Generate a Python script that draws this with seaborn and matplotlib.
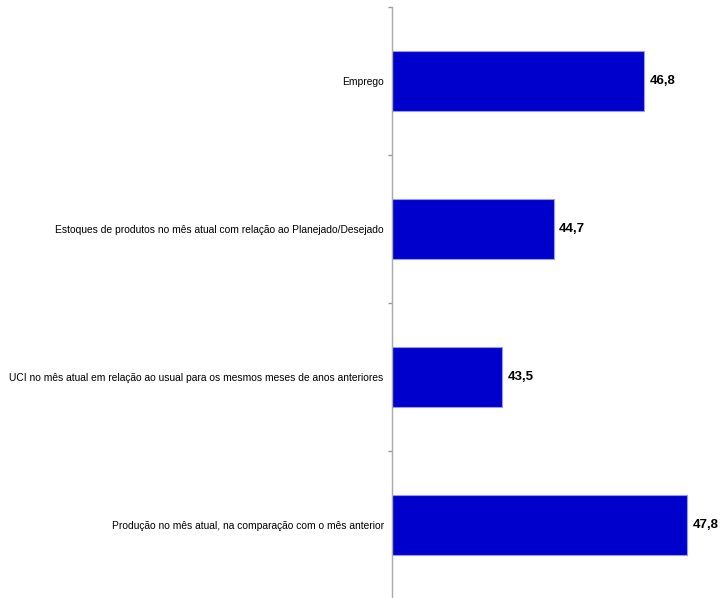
import matplotlib
matplotlib.use("Agg")
import matplotlib.pyplot as plt
import seaborn as sns
import pandas as pd

categorias = [
    "Emprego",
    "Estoques de produtos no mês atual com relação ao Planejado/Desejado",
    "UCI no mês atual em relação ao usual para os mesmos meses de anos anteriores",
    "Produção no mês atual, na comparação com o mês anterior",
]
valores = [46.8, 44.7, 43.5, 47.8]
rotulos = ["46,8", "44,7", "43,5", "47,8"]

sns.set_style("white")
plt.rcParams["font.family"] = ["Liberation Sans", "DejaVu Sans"]

df = pd.DataFrame({"categoria": categorias, "valor": valores})

fig = plt.figure(figsize=(7.2, 5.98), dpi=100)
ax = fig.add_axes([392 / 720, -1 / 598, 1 - 392 / 720, 592 / 598])
sns.barplot(data=df, x="valor", y="categoria", orient="h", color="#0000CC",
            width=0.4, edgecolor="#9999EE", linewidth=0.8, saturation=1, ax=ax)

ax.set_xlim(40.94, 48.57)
ax.set_ylim(3.5, -0.5)
ax.set_xlabel("")
ax.set_ylabel("")
ax.set_xticks([])
for lado in ["top", "right", "bottom"]:
    ax.spines[lado].set_visible(False)
ax.spines["left"].set_color("#AAAAAA")
ax.spines["left"].set_linewidth(1)

ax.set_yticks(range(len(categorias)))
ax.set_yticklabels(categorias, fontsize=7.4, color="black")
ax.tick_params(axis="y", which="major", left=False, length=0, pad=6)
ax.set_yticks([-0.5, 0.5, 1.5, 2.5, 3.5], minor=True)
ax.tick_params(axis="y", which="minor", left=True, length=3, width=1,
               color="#999999")

# rótulos dos valores ao lado de cada barra
for i, (v, r) in enumerate(zip(valores, rotulos)):
    ax.text(v + 0.13, i, r, va="center", ha="left", fontsize=9.5,
            fontweight="bold", color="black")

fig.savefig("out.png", dpi=100)
